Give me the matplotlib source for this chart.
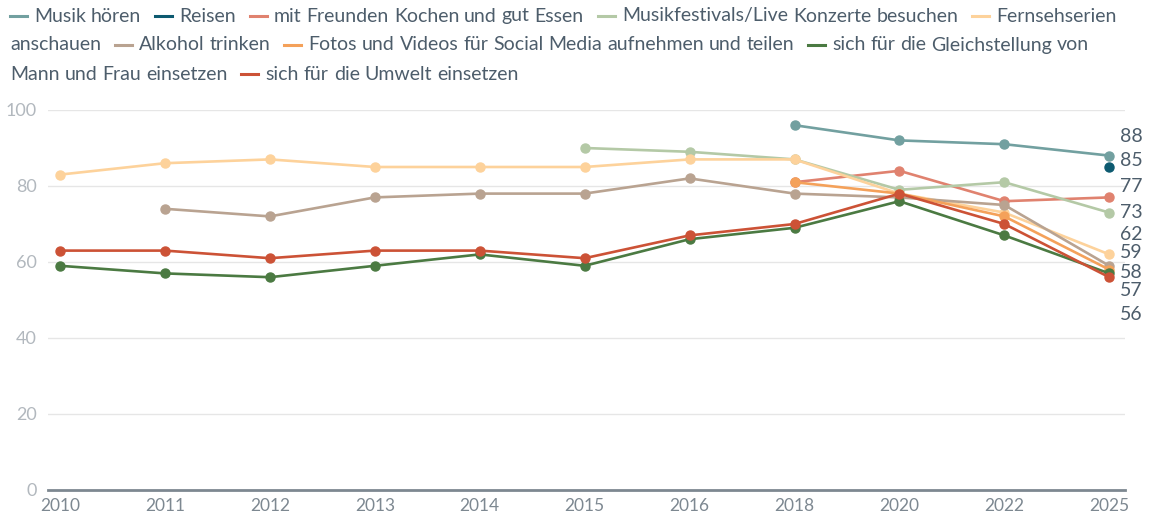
import numpy as np
import matplotlib
matplotlib.use('Agg')
import matplotlib.pyplot as plt
from matplotlib.lines import Line2D

nan = np.nan

years = ['2010', '2011', '2012', '2013', '2014', '2015', '2016', '2018', '2020', '2022', '2025']

series_names = [
  'Musik hören',
  'Reisen',
  'mit Freunden Kochen und gut Essen',
  'Musikfestivals/Live Konzerte besuchen',
  'Fernsehserien anschauen',
  'Alkohol trinken',
  'Fotos und Videos für Social Media aufnehmen und teilen',
  'sich für die Gleichstellung von Mann und Frau einsetzen',
  'sich für die Umwelt einsetzen',
]

musik_hoeren   = [nan, nan, nan, nan, nan, nan, nan, 96, 92, 91, 88]
reisen         = [nan, nan, nan, nan, nan, nan, nan, nan, nan, nan, 85]
kochen_essen   = [nan, nan, nan, nan, nan, nan, nan, 81, 84, 76, 77]
musikfestivals = [nan, nan, nan, nan, nan, 90, 89, 87, 79, 81, 73]
fernsehserien  = [83, 86, 87, 85, 85, 85, 87, 87, 78, 73, 62]
alkohol        = [nan, 74, 72, 77, 78, 78, 82, 78, 77, 75, 59]
social_media   = [nan, nan, nan, nan, nan, nan, nan, 81, 78, 72, 58]
gleichstellung = [59, 57, 56, 59, 62, 59, 66, 69, 76, 67, 57]
umwelt         = [63, 63, 61, 63, 63, 61, 67, 70, 78, 70, 56]

series_values = [musik_hoeren, reisen, kochen_essen, musikfestivals, fernsehserien,
                 alkohol, social_media, gleichstellung, umwelt]
colors = ['#72a0a0', '#0d5a70', '#e0826f', '#b4c9a6', '#fdd29b',
          '#b9a391', '#f4a15a', '#4b7a42', '#cc5236']

# end labels, placed apart (pixel offsets from top of figure)
end_label_py = [136, 161, 187, 212, 234, 253, 273, 291, 315]

W, H = 1151, 517
fig = plt.figure(figsize=(W/100, H/100), dpi=100)
plt.rcParams['font.family'] = ['Lato', 'DejaVu Sans']

def fx(px): return px / W
def fy(py): return 1 - py / H

ax = fig.add_axes([fx(48), fy(490), fx(1125) - fx(48), fy(110) - fy(490)])
x = np.arange(len(years))
ax.set_xlim(-0.115, 10.15)
ax.set_ylim(0, 100)

for yv in [20, 40, 60, 80, 100]:
  ax.axhline(yv, color='#e6e6e6', lw=1, zorder=0)

order = [0, 1, 2, 3, 4, 5, 6, 8, 7]
for i in order:
  vals = np.array(series_values[i], dtype=float)
  ax.plot(x, vals, color=colors[i], lw=1.9, marker='o', ms=6.5, clip_on=False, zorder=3 + i*0.1)

for sp in ['top', 'right', 'left']:
  ax.spines[sp].set_visible(False)
ax.spines['bottom'].set_color('#7d8891')
ax.spines['bottom'].set_linewidth(2)
ax.spines['bottom'].set_bounds(-0.115, 10.15)

ax.set_yticks([0, 20, 40, 60, 80, 100])
ax.tick_params(axis='y', length=0, pad=8, labelsize=13, labelcolor='#b2b8be')
ax.set_xticks(x)
ax.set_xticklabels(years)
ax.tick_params(axis='x', length=0, pad=6, labelsize=12.5, labelcolor='#7d8891')

# end value labels, sorted from highest to lowest
last_vals = [v[-1] for v in series_values]
for val, py in zip(sorted(last_vals, reverse=True), end_label_py):
  fig.text(fx(1120), fy(py), f'{val:.0f}', ha='left', va='center', fontsize=14, color='#4d5d6b')

# flowing legend at top
renderer = fig.canvas.get_renderer()
leg_fs = 14
leg_color = '#4d5d6b'

def text_w(s):
  t = fig.text(0, 0, s, fontsize=leg_fs)
  w = t.get_window_extent(renderer).width
  t.remove()
  return w

space_w = text_w('a a') - text_w('aa')
mark_w, mark_gap, item_gap = 17, 7, 14
max_x = 1135
lx, ly = 10, 16
line_h = 29
for name, col in zip(series_names, colors):
  words = name.split(' ')
  first_w = mark_w + mark_gap + text_w(words[0])
  if lx + first_w > max_x:
    lx = 10
    ly += line_h
  fig.add_artist(Line2D([fx(lx), fx(lx + mark_w)], [fy(ly), fy(ly)], color=col, lw=2.2))
  lx += mark_w + mark_gap
  for j, wd in enumerate(words):
    ww = text_w(wd)
    if j > 0:
      if lx + space_w + ww > max_x:
        lx = 10
        ly += line_h
      else:
        lx += space_w
    fig.text(fx(lx), fy(ly), wd, fontsize=leg_fs, color=leg_color, ha='left', va='center')
    lx += ww
  lx += item_gap

fig.savefig('out.png', dpi=100)
